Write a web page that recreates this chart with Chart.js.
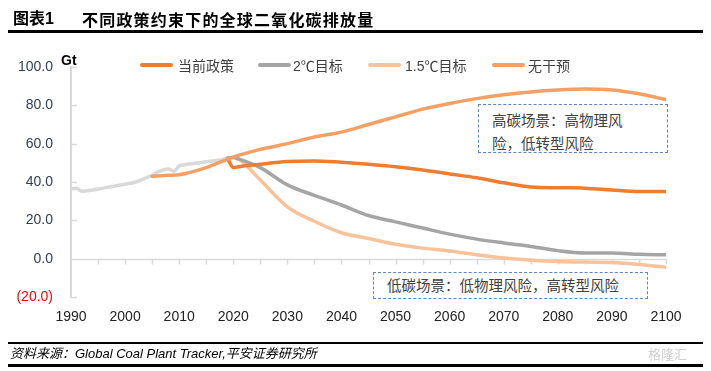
<!DOCTYPE html>
<html><head><meta charset="utf-8">
<script src="https://cdn.jsdelivr.net/npm/chart.js@4.4.1/dist/chart.umd.min.js"></script>
<style>
html,body{margin:0;padding:0;background:#fff;width:711px;height:371px;overflow:hidden;font-family:"Liberation Sans","Noto Sans CJK SC",sans-serif;}
#wrap{position:relative;width:711px;height:371px;}
#c{position:absolute;left:0;top:0;}
.abs{position:absolute;white-space:nowrap;line-height:1;}
.rule{position:absolute;background:#000;}
.box{position:absolute;border:1px dashed #5B87C5;background:#fff;color:#404040;font-family:"Noto Sans CJK SC",sans-serif;font-size:14.5px;box-sizing:border-box;}
.leg{position:absolute;top:57px;height:14px;font-size:14px;color:#404040;white-space:nowrap;}
.leg i{position:absolute;left:0;top:6px;width:33px;height:3.5px;border-radius:2px;}
.leg span{position:absolute;top:-2px;font-family:"Liberation Sans","Noto Sans CJK SC",sans-serif;}
</style></head>
<body><div id="wrap">
<canvas id="c" width="711" height="371"></canvas>
<div class="abs" style="left:13px;top:11px;font-size:16px;font-weight:bold;font-family:'Liberation Sans','Noto Sans CJK SC';">图表1</div>
<div class="abs" style="left:82px;top:11px;font-size:16px;font-weight:bold;letter-spacing:1.2px;font-family:'Noto Sans CJK SC';">不同政策约束下的全球二氧化碳排放量</div>
<div class="rule" style="left:8px;top:30px;width:695px;height:3px;"></div>
<div class="abs" style="left:61px;top:53px;font-size:14px;font-weight:bold;color:#000;">Gt</div>
<div id="legend"></div>
<div class="box" style="left:478px;top:104px;width:190px;height:49px;padding:3px 0 0 13px;line-height:23px;white-space:normal;">高碳场景：高物理风<br>险，低转型风险</div>
<div class="box" style="left:373px;top:272px;width:275px;height:27px;padding:1px 0 0 13px;line-height:22px;white-space:nowrap;">低碳场景：低物理风险，高转型风险</div>
<div class="rule" style="left:8px;top:342px;width:695px;height:2px;"></div>
<div class="abs" style="left:10px;top:347px;font-size:13px;font-style:italic;color:#000;font-family:'Liberation Sans','Noto Sans CJK SC';">资料来源：Global Coal Plant Tracker,平安证券研究所</div>
<div class="rule" style="left:8px;top:364px;width:695px;height:2.5px;"></div>
<div class="abs" style="left:648px;top:347px;font-size:13px;color:#cfcfcf;font-family:'Noto Sans CJK SC';">格隆汇</div>
</div>
<script>
// ---- data ----
const histYears = [1990,1991,1992,1994,1996,1998,2000,2002,2004,2005,2006,2008,2009,2010,2011,2013,2015,2017,2019];
const histValues = [36.3,36.7,35.2,35.8,36.8,37.8,38.8,40,42.3,43.5,45.2,46.8,45.6,48.3,49,49.8,50.6,51.3,52.5];

const noActionYears = [2005,2008,2010,2015,2020,2025,2030,2035,2040,2045,2050,2055,2060,2065,2070,2075,2080,2085,2090,2095,2100];
const noActionValues = [43,43.5,43.8,47.5,53,57,60,63.5,66,70,74,78,81,83.5,85.5,87,88,88.5,88,86,83];

const projYears = [2019,2020,2021,2025,2030,2035,2040,2045,2050,2055,2060,2065,2070,2075,2080,2085,2090,2095,2100];
const currentPolicy = [52,47.5,48,49.3,50.7,51,50.3,49.3,48,46.3,44.2,42.2,39.6,37.4,37,36.8,35.8,35,35];
const target2C = [52.5,52.8,52,47.5,38.5,33,28,22.5,19.2,16,12.8,10.2,8.2,6.4,4.2,3,3,2.3,2];
const target15C = [52.5,52.8,52,41,27,19.5,13.5,10.5,7.5,5.5,4,2,0.3,-0.8,-1.5,-1.8,-2,-3,-4.5];

const seriesNames = ['当前政策','2℃目标','1.5℃目标','无干预'];
const yTicks = [-20,0,20,40,60,80,100];
const xLabelYears = [1990,2000,2010,2020,2030,2040,2050,2060,2070,2080,2090,2100];

// ---- styles ----
const colors = {cur:'#ED7D31', t2:'#A5A5A5', t15:'#F8C29A', none:'#F4A065', hist:'#D9D9D9'};
const pts = (xs, ys) => xs.map((x,i)=>({x:x,y:ys[i]}));

// legend (html)
const legColors = [colors.cur, colors.t2, colors.t15, colors.none];
const legX = [140,258,368,492];
const legEl = document.getElementById('legend');
seriesNames.forEach((n,i)=>{
  const d=document.createElement('div'); d.className='leg'; d.style.left=legX[i]+'px';
  d.innerHTML='<i style="background:'+legColors[i]+'"></i><span style="left:'+(i===0?38:(i===1?35:(i===2?37:36)))+'px">'+n+'</span>';
  legEl.appendChild(d);
});

const deco = {
  id:'deco',
  beforeDatasetsDraw(chart){
    const {ctx, scales:{x,y}} = chart;
    const y0 = Math.round(y.getPixelForValue(0))+0.5;
    ctx.save();
    ctx.strokeStyle='#D9D9D9'; ctx.lineWidth=1.5;
    ctx.beginPath();
    ctx.moveTo(x.left,y0); ctx.lineTo(x.right,y0);
    for(let yr=1995; yr<=2100; yr+=5){ const px=Math.round(x.getPixelForValue(yr))+0.5; ctx.moveTo(px,y0); ctx.lineTo(px,y0+5); }
    yTicks.forEach(v=>{ const py=Math.round(y.getPixelForValue(v))+0.5; ctx.moveTo(x.left,py); ctx.lineTo(x.left+6,py); });
    ctx.stroke(); ctx.restore();
  }
};

const ds = (label, data, color, order) => ({label, data, borderColor:color, backgroundColor:color, borderWidth:3.5, pointRadius:0, cubicInterpolationMode:'monotone', borderCapStyle:'round', borderJoinStyle:'round', order});

new Chart(document.getElementById('c'), {
  type:'line',
  data:{datasets:[
    ds('历史', pts(histYears,histValues), colors.hist, 5),
    ds(seriesNames[2], pts(projYears,target15C), colors.t15, 4),
    ds(seriesNames[1], pts(projYears,target2C), colors.t2, 3),
    ds(seriesNames[0], pts(projYears,currentPolicy), colors.cur, 2),
    ds(seriesNames[3], pts(noActionYears,noActionValues), colors.none, 1)
  ]},
  options:{
    responsive:false, animation:false,
    layout:{padding:{left:0,right:45,top:67,bottom:44}},
    plugins:{legend:{display:false}, tooltip:{enabled:false}},
    scales:{
      x:{type:'linear', min:1990, max:2100,
        afterBuildTicks(s){ s.ticks = xLabelYears.map(v=>({value:v})); },
        afterFit(s){ s.height=30; },
        grid:{display:false}, border:{display:false},
        ticks:{padding:4, maxRotation:0, autoSkip:false, color:'#222', font:{family:'Liberation Sans', size:14}, callback:v=>String(v)}},
      y:{min:-20, max:100,
        afterBuildTicks(s){ s.ticks = yTicks.map(v=>({value:v})); },
        afterFit(s){ s.width=71; },
        grid:{display:false, drawTicks:false}, border:{display:true, color:'#D9D9D9', width:2},
        ticks:{padding:18, color:c=>c.tick.value<0?'#FF0000':'#333F50', font:{family:'Liberation Sans', size:14},
          callback:v=> v<0 ? '('+Math.abs(v).toFixed(1)+')' : v.toFixed(1)}}
    }
  },
  plugins:[deco]
});
</script>
</body></html>
